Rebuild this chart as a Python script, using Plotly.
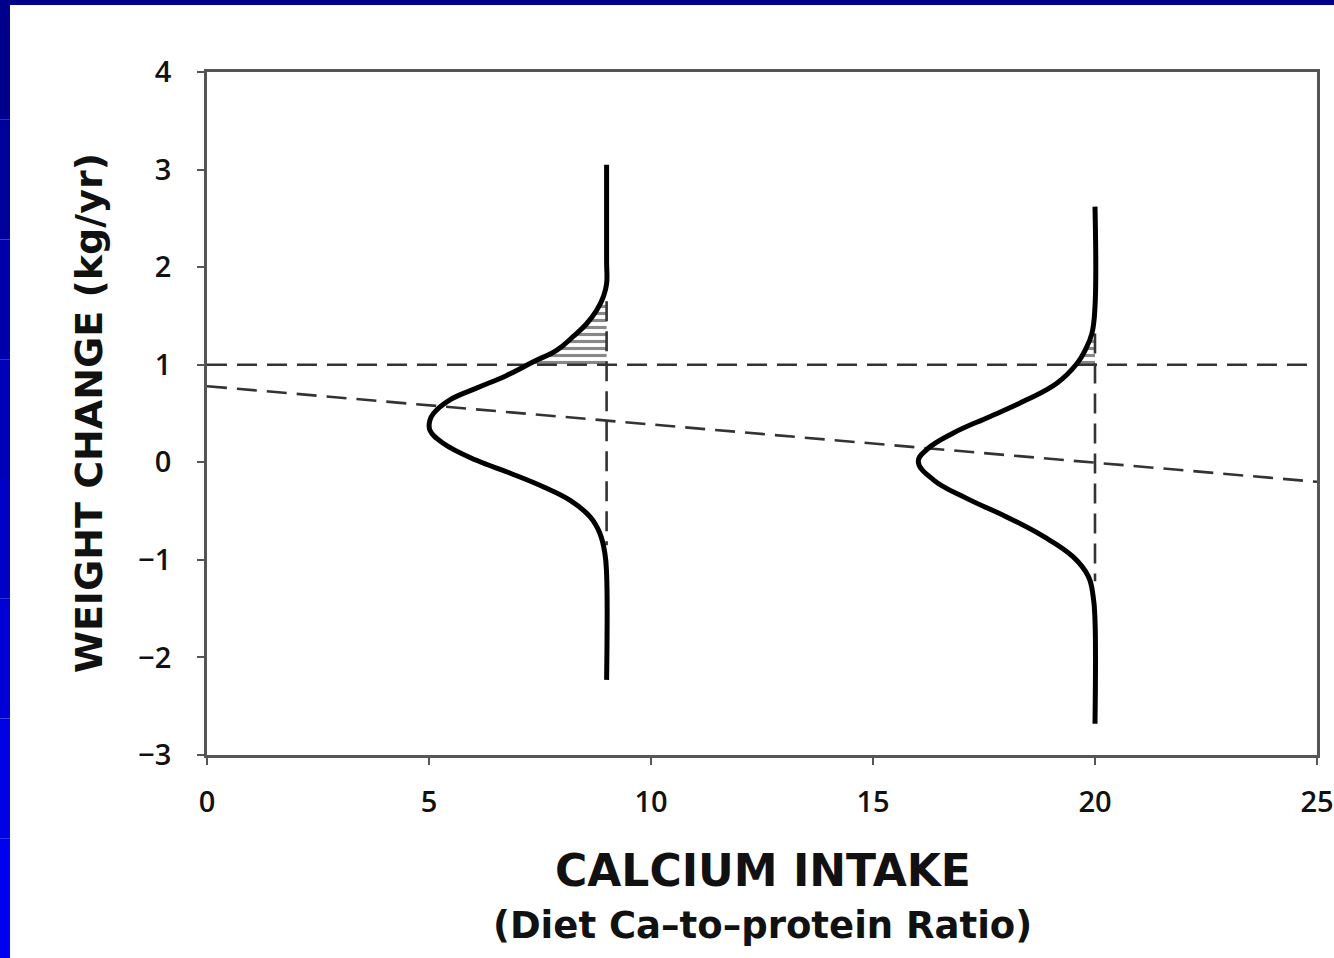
import plotly.graph_objects as go

# ---- data ----
curve1_y = [3.05, 2.07, 1.83, 1.70, 1.56, 1.42, 1.29, 1.15, 1.03, 0.89, 0.76, 0.64, 0.50, 0.43,
            0.33, 0.195, 0.02, -0.11, -0.25, -0.39, -0.56, -0.73, -0.93, -1.14, -2.23]
curve1_x = [9.0, 9.0, 9.0, 8.93, 8.78, 8.55, 8.25, 7.88, 7.35, 6.75, 6.07, 5.47, 5.10, 5.02,
            5.02, 5.32, 6.07, 6.82, 7.57, 8.18, 8.63, 8.85, 8.96, 9.0, 9.0]

curve2_y = [2.62, 1.595, 1.32, 1.15, 1.01, 0.81, 0.64, 0.47, 0.30, 0.13, 0.006, -0.18, -0.37,
            -0.56, -0.76, -0.97, -1.17, -1.38, -1.62, -2.68]
curve2_x = [20.0, 20.0, 19.93, 19.78, 19.59, 19.14, 18.46, 17.64, 16.81, 16.21, 16.02, 16.36,
            17.11, 18.01, 18.84, 19.51, 19.85, 19.96, 20.0, 20.0]

hatch1_x = [7.22, 7.35, 7.88, 8.25, 8.55, 8.78, 8.90, 9.0, 9.0]
hatch1_y = [1.0, 1.03, 1.15, 1.29, 1.42, 1.56, 1.65, 1.65, 1.0]
hatch2_x = [19.57, 19.78, 19.93, 20.0, 20.0]
hatch2_y = [1.0, 1.15, 1.32, 1.32, 1.0]

threshold_x = [0, 25]
threshold_y = [1.0, 1.0]
trend_x = [0, 25]
trend_y = [0.78, -0.20]
vline1_x = [9, 9]
vline1_y = [1.65, -0.85]
vline2_x = [20, 20]
vline2_y = [1.32, -1.22]

x_ticks = [0, 5, 10, 15, 20, 25]
y_ticks = [-3, -2, -1, 0, 1, 2, 3, 4]

# ---- figure ----
W, H = 1334, 958
L, R, T, B = 207, 17, 72, 203
pw, ph = W - L - R, H - T - B

def px2paper_x(p):
    return (p - L) / pw

def px2paper_y(p):
    return (H - B - p) / ph

dash_style = dict(color="#333333", width=2.6, dash="20px,10px")
fig = go.Figure()

for hx, hy in [(hatch1_x, hatch1_y), (hatch2_x, hatch2_y)]:
    fig.add_trace(go.Scatter(x=hx, y=hy, mode="lines", fill="toself",
                             line=dict(width=0, color="rgba(0,0,0,0)"),
                             fillcolor="rgba(0,0,0,0)",
                             fillpattern=dict(shape="-", size=7, solidity=0.45,
                                              fgcolor="#111111", bgcolor="white"),
                             hoverinfo="skip", showlegend=False))

for xs, ys in [(threshold_x, threshold_y), (trend_x, trend_y), (vline1_x, vline1_y), (vline2_x, vline2_y)]:
    fig.add_trace(go.Scatter(x=xs, y=ys, mode="lines", line=dash_style,
                             hoverinfo="skip", showlegend=False))

for cx, cy in [(curve1_x, curve1_y), (curve2_x, curve2_y)]:
    fig.add_trace(go.Scatter(x=cx, y=cy, mode="lines",
                             line=dict(color="black", width=5, shape="spline", smoothing=1.2),
                             hoverinfo="skip", showlegend=False))

axis_common = dict(showgrid=False, zeroline=False, showline=True, linecolor="#555555",
                   linewidth=2.5, mirror=True, ticks="outside", ticklen=7, tickwidth=2,
                   tickcolor="#555555", ticklabeloverflow="allow", automargin=False,
                   tickfont=dict(family="Open Sans", size=29, color="#111111", weight=600))

fig.update_xaxes(range=[0, 25], tickvals=x_ticks, ticklabelstandoff=12, **axis_common)
fig.update_yaxes(range=[-3, 4], tickvals=y_ticks, ticklabelstandoff=20, **axis_common)

title_font = dict(family="DejaVu Sans", color="#111111", weight="bold")
fig.add_annotation(text="CALCIUM INTAKE", x=px2paper_x(763), y=px2paper_y(870),
                   xref="paper", yref="paper", showarrow=False, xanchor="center", yanchor="middle",
                   font=dict(size=44, **title_font))
fig.add_annotation(text="(Diet Ca\u2013to\u2013protein Ratio)", x=px2paper_x(762), y=px2paper_y(925),
                   xref="paper", yref="paper", showarrow=False, xanchor="center", yanchor="middle",
                   font=dict(size=37, **title_font))
fig.add_annotation(text="WEIGHT CHANGE (kg/yr)", x=px2paper_x(89), y=px2paper_y(413),
                   xref="paper", yref="paper", showarrow=False, xanchor="center", yanchor="middle",
                   textangle=-90, font=dict(size=38, **title_font))

# blue slide border (left and top strips)
shapes = []
blues = ["#00008c", "#00009a", "#0000aa", "#0000ba", "#0000c8", "#0000d6", "#0000e4", "#0000f0"]
n = len(blues)
for i, c in enumerate(blues):
    shapes.append(dict(type="rect", xref="paper", yref="paper",
                       x0=px2paper_x(0), x1=px2paper_x(10),
                       y0=px2paper_y(H * (i + 1) / n), y1=px2paper_y(H * i / n),
                       fillcolor=c, line=dict(width=0), layer="above"))
shapes.append(dict(type="rect", xref="paper", yref="paper",
                   x0=px2paper_x(0), x1=px2paper_x(W),
                   y0=px2paper_y(5), y1=px2paper_y(0),
                   fillcolor="#00008c", line=dict(width=0), layer="above"))

fig.update_layout(width=W, height=H, margin=dict(l=L, r=R, t=T, b=B, autoexpand=False),
                  paper_bgcolor="white", plot_bgcolor="white", shapes=shapes,
                  showlegend=False)

fig.write_html("out.html")
